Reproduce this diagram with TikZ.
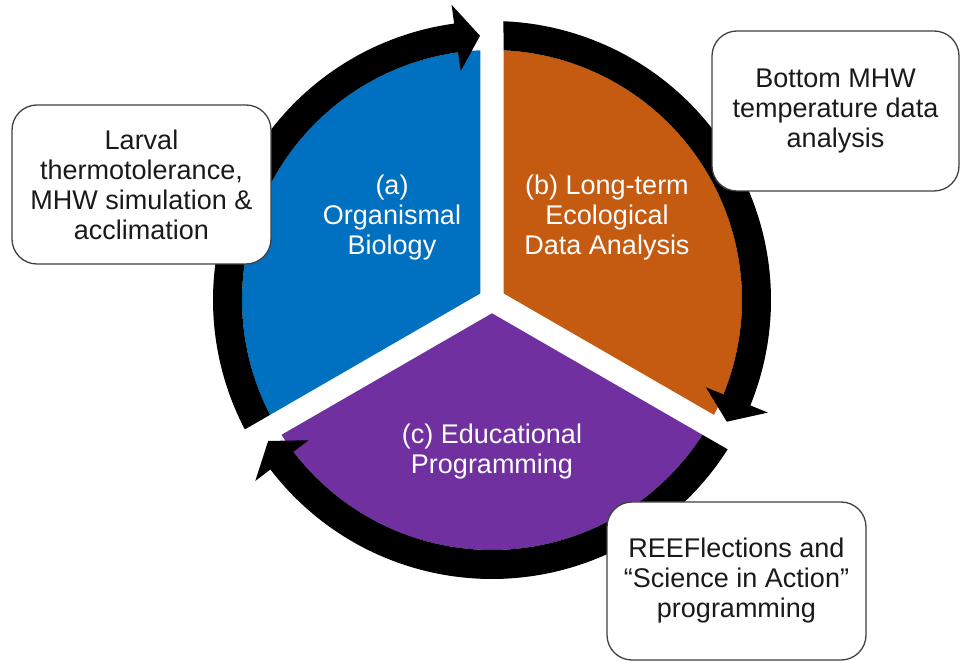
\documentclass[tikz,border=0pt]{standalone}
\usepackage{fontspec}
\setmainfont{Liberation Sans}
\usetikzlibrary{calc}
\definecolor{secblue}{HTML}{0070C0}
\definecolor{secorange}{HTML}{C55A11}
\definecolor{secpurple}{HTML}{7030A0}
\definecolor{boxline}{HTML}{404040}
\definecolor{boxtext}{HTML}{1A1A1A}

% Black block arc arrow in the ring: #1 = angle of the gap line at the tail,
% #2 = angle of the tip (the arrow runs clockwise).
\newcommand\cyclearrow[2]{%
  \pgfmathsetmacro\tailout{#1-2.36}%
  \pgfmathsetmacro\tailin{#1-2.64}%
  \pgfmathsetmacro\headbase{#2+5.2}%
  \fill[black] (\tailout:279) arc[start angle=\tailout,end angle=\headbase,radius=279]
    -- (\headbase:298) -- (#2:264.5) -- (\headbase:231) -- (\headbase:250)
    arc[start angle=\headbase,end angle=\tailin,radius=250] -- cycle;}

\begin{document}
\begin{tikzpicture}[x=1pt,y=1pt,
  sectortext/.style={text=white, align=center, inner sep=0pt,
    font=\fontsize{27}{30}\selectfont},
  notebox/.style={draw=boxline, line width=1.3pt, fill=white,
    rounded corners=25pt, align=center, inner sep=0pt, text=boxtext,
    font=\fontsize{27}{30}\selectfont},
]
\useasboundingbox (0,0) rectangle (961,661);
\coordinate (C) at (492,361);

\begin{scope}[shift={(C)}]
  % three sectors separated by white gaps
  \fill[secblue] (150:13.3) -- (92.64:250)
    arc[start angle=92.64,end angle=207.36,radius=250] -- cycle;
  \fill[secorange] (30:13.3) -- (-27.36:250)
    arc[start angle=-27.36,end angle=87.36,radius=250] -- cycle;
  \fill[secpurple] (270:13.3) -- (212.64:250)
    arc[start angle=212.64,end angle=327.36,radius=250] -- cycle;
  % ring of arrows
  \cyclearrow{210}{92.6}
  \cyclearrow{90}{-27.4}
  \cyclearrow{-30}{-147.8}
\end{scope}

\node[sectortext] (orgbio) at (392,443) {(a)\\Organismal\\Biology};
\node[sectortext] (ecodata) at (607,443) {(b) Long-term\\Ecological\\Data Analysis};
\node[sectortext] (edprog) at (492,209) {(c) Educational\\Programming};

\node[notebox, minimum width=259pt, minimum height=159pt] (larval) at (141.5,476.5)
  {Larval\\thermotolerance,\\MHW simulation \&\\acclimation};
\node[notebox, minimum width=247pt, minimum height=160pt] (bottom) at (835.5,550)
  {Bottom MHW\\temperature data\\analysis};
\node[notebox, minimum width=259pt, minimum height=158pt] (reef) at (736.5,80)
  {REEFlections and\\“Science in Action”\\programming};
\end{tikzpicture}
\end{document}
